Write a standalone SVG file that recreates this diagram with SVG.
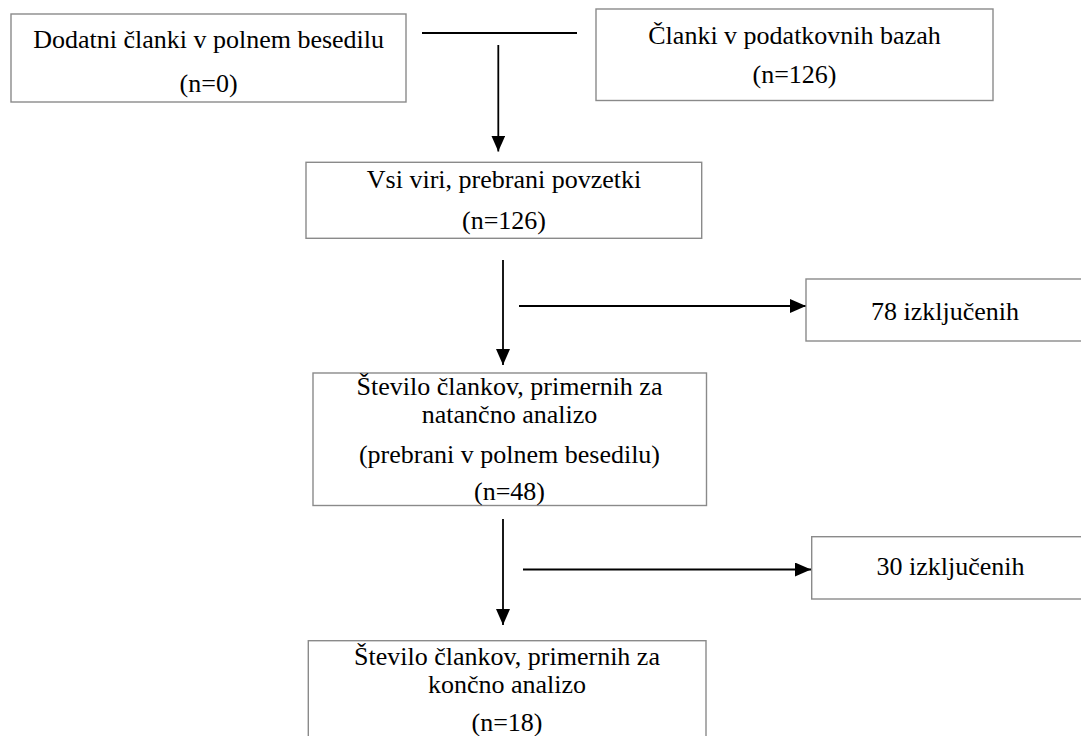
<svg xmlns="http://www.w3.org/2000/svg" width="1081" height="736" viewBox="0 0 1081 736">
<style>
.box{fill:#fff;stroke:#8a8a8a;stroke-width:1.4}
.t{font-family:"Liberation Serif","Times New Roman",serif;font-size:26px;fill:#000;text-anchor:middle}
.c{stroke:#000;stroke-width:1.8;fill:none}
</style>
<defs>
<marker id="ah" markerUnits="userSpaceOnUse" markerWidth="16" markerHeight="14" refX="16" refY="7" orient="auto">
<path d="M0,0 L16,7 L0,14 Z" fill="#000"/>
</marker>
</defs>
<rect width="1081" height="736" fill="#fff"/>
<g id="connectors">
<line class="c" x1="422" y1="33" x2="577" y2="33"/>
<line class="c" x1="498.3" y1="45" x2="498.3" y2="151.5" marker-end="url(#ah)"/>
<line class="c" x1="503" y1="260" x2="503" y2="365" marker-end="url(#ah)"/>
<line class="c" x1="519" y1="306" x2="806" y2="306" marker-end="url(#ah)"/>
<line class="c" x1="503" y1="519" x2="503" y2="625" marker-end="url(#ah)"/>
<line class="c" x1="523" y1="569.5" x2="811" y2="569.5" marker-end="url(#ah)"/>
</g>
<g id="node-dodatni">
<rect class="box" x="11" y="14" width="395" height="88"/>
<text class="t" x="208.6" y="48">Dodatni članki v polnem besedilu</text>
<text class="t" x="208.6" y="92">(n=0)</text>
</g>
<g id="node-baze">
<rect class="box" x="596" y="9" width="397" height="91.5"/>
<text class="t" x="794.5" y="44">Članki v podatkovnih bazah</text>
<text class="t" x="794.5" y="83">(n=126)</text>
</g>
<g id="node-vsi">
<rect class="box" x="306" y="162.3" width="395.7" height="76"/>
<text class="t" x="504" y="188.3">Vsi viri, prebrani povzetki</text>
<text class="t" x="504" y="229.3">(n=126)</text>
</g>
<g id="node-izkljuceni78">
<rect class="box" x="806" y="279" width="300" height="62"/>
<text class="t" x="945" y="320">78 izključenih</text>
</g>
<g id="node-natancna">
<rect class="box" x="313" y="373" width="393.5" height="132.5"/>
<text class="t" x="509.5" y="395">Število člankov, primernih za</text>
<text class="t" x="509.5" y="423">natančno analizo</text>
<text class="t" x="509.5" y="463">(prebrani v polnem besedilu)</text>
<text class="t" x="509.5" y="500">(n=48)</text>
</g>
<g id="node-izkljuceni30">
<rect class="box" x="811.7" y="536.7" width="300" height="62.3"/>
<text class="t" x="950.6" y="575">30 izključenih</text>
</g>
<g id="node-koncna">
<rect class="box" x="308.3" y="640.7" width="397.7" height="110"/>
<text class="t" x="507" y="665">Število člankov, primernih za</text>
<text class="t" x="507" y="693">končno analizo</text>
<text class="t" x="507" y="731">(n=18)</text>
</g>
</svg>
